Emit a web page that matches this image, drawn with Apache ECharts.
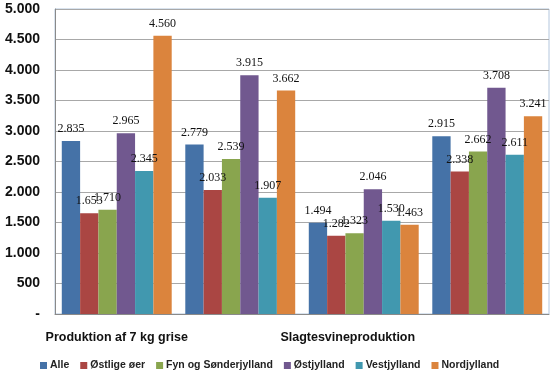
<!DOCTYPE html>
<html><head><meta charset="utf-8">
<script src="https://cdn.jsdelivr.net/npm/echarts@6/dist/echarts.min.js"></script>
<style>html,body{margin:0;padding:0;background:#fff}#c{width:550px;height:378px}</style>
</head><body><div id="c"></div>
<script>
var categories = ['Produktion af 7 kg grise', '', 'Slagtesvineproduktion', ''];
var seriesNames = ['Alle', 'Østlige øer', 'Fyn og Sønderjylland', 'Østjylland', 'Vestjylland', 'Nordjylland'];
var alle = [2835, 2779, 1494, 2915];
var ostligeOer = [1653, 2033, 1282, 2338];
var fynSonderjylland = [1710, 2539, 1323, 2662];
var ostjylland = [2965, 3915, 2046, 3708];
var vestjylland = [2345, 1907, 1530, 2611];
var nordjylland = [4560, 3662, 1463, 3241];
var yTicks = [0, 500, 1000, 1500, 2000, 2500, 3000, 3500, 4000, 4500, 5000];
var colors = ['#4572A7', '#AA4643', '#89A54E', '#71588F', '#4198AF', '#DB843D'];
var allData = [alle, ostligeOer, fynSonderjylland, ostjylland, vestjylland, nordjylland];

function fmt(v){ if(v===0) return '-'; var s=String(v); return s.length>3 ? s.slice(0,s.length-3)+'.'+s.slice(-3) : s; }

var chart = echarts.init(document.getElementById('c'), null, {renderer:'canvas'});
chart.setOption({
  animation:false,
  backgroundColor:'#ffffff',
  color: colors,
  grid:{left:55, top:9, right:1, height:305, show:true, borderColor:'#b3c6dd', borderWidth:1, containLabel:false},
  legend:{
    data: seriesNames, left:35, top:355, itemWidth:7, itemHeight:7, itemGap:11, icon:'rect',
    textStyle:{fontFamily:'Liberation Sans', fontSize:10.5, fontWeight:'bold', color:'#222', padding:[0,0,0,-2]}
  },
  xAxis:{
    type:'category', data:categories,
    axisLine:{show:true, lineStyle:{color:'#8a8a8a'}},
    axisTick:{show:false},
    axisLabel:{
      margin:17, interval:0,
      formatter:function(v, i){ return i===2 ? '{s|'+v+'}' : '{p|'+v+'}'; },
      rich:{
        p:{fontFamily:'Liberation Sans', fontSize:12.5, fontWeight:'bold', color:'#111'},
        s:{fontFamily:'Liberation Sans', fontSize:12.5, fontWeight:'bold', color:'#111', padding:[0,32,0,0]}
      }
    }
  },
  yAxis:{
    type:'value', min:yTicks[0], max:yTicks[yTicks.length-1], interval:500,
    axisLine:{show:true, lineStyle:{color:'#8a8a8a'}},
    axisTick:{show:false},
    splitLine:{lineStyle:{color:'#a8a8a8'}},
    axisLabel:{margin:15, formatter:fmt, fontFamily:'Liberation Sans', fontSize:14, fontWeight:'bold', color:'#111'}
  },
  series: seriesNames.map(function(n, k){
    return {
      name:n, type:'bar', data:allData[k], barGap:'0%', barCategoryGap:'11%',
      itemStyle:{color:colors[k]},
      label:{show:true, position:'top', distance:6, formatter:function(p){return fmt(p.value);},
        fontFamily:'Liberation Serif', fontSize:12, color:'#111'}
    };
  })
});
</script></body></html>
